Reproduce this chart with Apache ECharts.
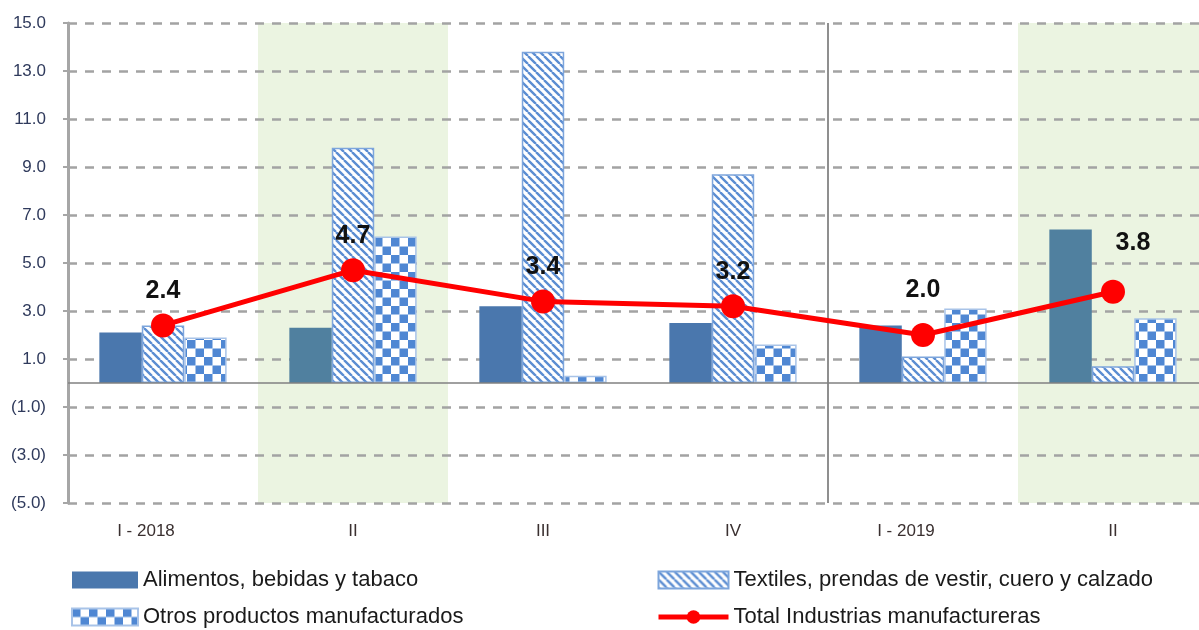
<!DOCTYPE html>
<html>
<head>
<meta charset="utf-8">
<script src="https://cdn.jsdelivr.net/npm/echarts@6/dist/echarts.min.js"></script>
<style>html,body{margin:0;padding:0;background:#fff}#chart{width:1199px;height:630px}</style>
</head>
<body>
<div id="chart"></div>
<script>
const categories = ['I - 2018', 'II', 'III', 'IV', 'I - 2019', 'II'];
const alimentos = [2.1, 2.3, 3.2, 2.5, 2.4, 6.4];
const textiles = [2.4, 9.8, 13.8, 8.7, 1.1, 0.7];
const otros = [1.9, 6.1, 0.3, 1.6, 3.1, 2.7];
const total = [2.4, 4.7, 3.4, 3.2, 2.0, 3.8];
const yTicks = [-5, -3, -1, 1, 3, 5, 7, 9, 11, 13, 15];

const names = ['Alimentos, bebidas y tabaco', 'Textiles, prendas de vestir, cuero y calzado',
  'Otros productos manufacturados', 'Total Industrias manufactureras'];

const FONT = '"Liberation Sans", Arial, sans-serif';

// hatch fills, drawn once on small canvases
function stripes() {
  const c = document.createElement('canvas');
  c.width = c.height = 8;
  const g = c.getContext('2d');
  g.fillStyle = '#fff';
  g.fillRect(0, 0, 8, 8);
  g.strokeStyle = '#5b8dd2';
  g.lineWidth = 2.4;
  g.beginPath();
  for (const o of [-8, 0, 8]) { g.moveTo(o, 0); g.lineTo(o + 8, 8); }
  g.stroke();
  return c;
}
function checker() {
  const c = document.createElement('canvas');
  c.width = c.height = 17;
  const g = c.getContext('2d');
  g.fillStyle = '#fff';
  g.fillRect(0, 0, 17, 17);
  g.fillStyle = '#4f87d3';
  g.fillRect(0, 0, 8.5, 8.5);
  g.fillRect(8.5, 8.5, 8.5, 8.5);
  return c;
}

const chart = echarts.init(document.getElementById('chart'), null, { renderer: 'canvas' });

const fmt = v => v < 0 ? '(' + Math.abs(v).toFixed(1) + ')' : v.toFixed(1);
const none = 'rgba(0,0,0,0)';
const legendText = { fontSize: 22, lineHeight: 22, color: '#1a1a1a', fontFamily: FONT };
const shaded = [1, 5]; // quarters sitting on the green bands

// year labels sit a little left of the group centre in the original
const xData = categories.map(c => c.indexOf(' - ') > 0
  ? { value: c, textStyle: { padding: [0, 34, 0, 0] } }
  : c);

chart.setOption({
  animation: false,
  textStyle: { fontFamily: FONT },
  grid: { left: 68, width: 1140, top: 23, bottom: 127, outerBoundsMode: 'none' },
  legend: [
    {
      left: 71, top: 569, height: 80, padding: 0, orient: 'vertical', itemGap: 15, itemWidth: 66, itemHeight: 17,
      textStyle: legendText,
      data: [{ name: names[0], icon: 'rect', itemStyle: { color: '#4a77ad' } }, { name: names[2], icon: 'rect' }]
    },
    {
      left: 656, top: 569, height: 80, padding: 0, orient: 'vertical', itemGap: 15, itemWidth: 70, itemHeight: 17,
      textStyle: legendText,
      data: [{ name: names[1], icon: 'rect' }, { name: names[3], lineStyle: { width: 5 } }]
    }
  ],
  xAxis: {
    type: 'category',
    data: xData,
    axisLine: { show: false },
    axisTick: { show: false },
    axisLabel: { margin: 20, fontSize: 17, color: '#3a3030', fontFamily: FONT },
    splitArea: {
      show: true,
      areaStyle: { color: [none, '#ebf4e1', none, none, none, '#ebf4e1'] }
    },
    splitLine: {
      show: true,
      lineStyle: { width: 2, color: [none, none, none, none, '#8f8f8f', none, none] }
    }
  },
  yAxis: {
    type: 'value',
    z: 1,
    min: -5, max: 15, interval: 1,
    axisLine: { show: true, lineStyle: { color: '#a6a6a6', width: 3 } },
    axisTick: { show: true, length: 5, customValues: yTicks, lineStyle: { color: '#a6a6a6', width: 2 } },
    axisLabel: { customValues: yTicks, formatter: fmt, margin: 22, fontSize: 17, color: '#2f3a5c', fontFamily: FONT },
    splitLine: { show: true, lineStyle: { color: '#a3a3a3', width: 2.5, type: [9, 8] } }
  },
  series: [
    {
      name: names[0], type: 'bar', data: alimentos,
      barGap: '0%', barCategoryGap: '33%',
      itemStyle: { color: p => shaded.includes(p.dataIndex) ? '#50809f' : '#4a77ad' },
      markLine: {
        silent: true, symbol: 'none', label: { show: false },
        lineStyle: { type: 'solid', color: '#808080', width: 1.5 },
        data: [{ yAxis: 0 }]
      }
    },
    {
      name: names[1], type: 'bar', data: textiles,
      itemStyle: { color: { image: stripes(), repeat: 'repeat' }, borderColor: '#7da5dc', borderWidth: 1.5 }
    },
    {
      name: names[2], type: 'bar', data: otros,
      itemStyle: { color: { image: checker(), repeat: 'repeat' }, borderColor: '#a8c3e8', borderWidth: 1.5 }
    },
    {
      name: names[3], type: 'line', data: total.map((v, i) => ({
        value: v,
        label: i === 5 ? { offset: [20, -14] } : (i === 4 ? { offset: [0, -10] } : {})
      })),
      z: 5,
      symbol: 'circle', symbolSize: 24,
      lineStyle: { color: '#ff0000', width: 5 },
      itemStyle: { color: '#ff0000' },
      label: {
        show: true, position: 'top', distance: 10,
        formatter: p => p.value.toFixed(1),
        fontSize: 25, fontWeight: 'bold', color: '#111', fontFamily: FONT
      }
    }
  ]
});
</script>
</body>
</html>
